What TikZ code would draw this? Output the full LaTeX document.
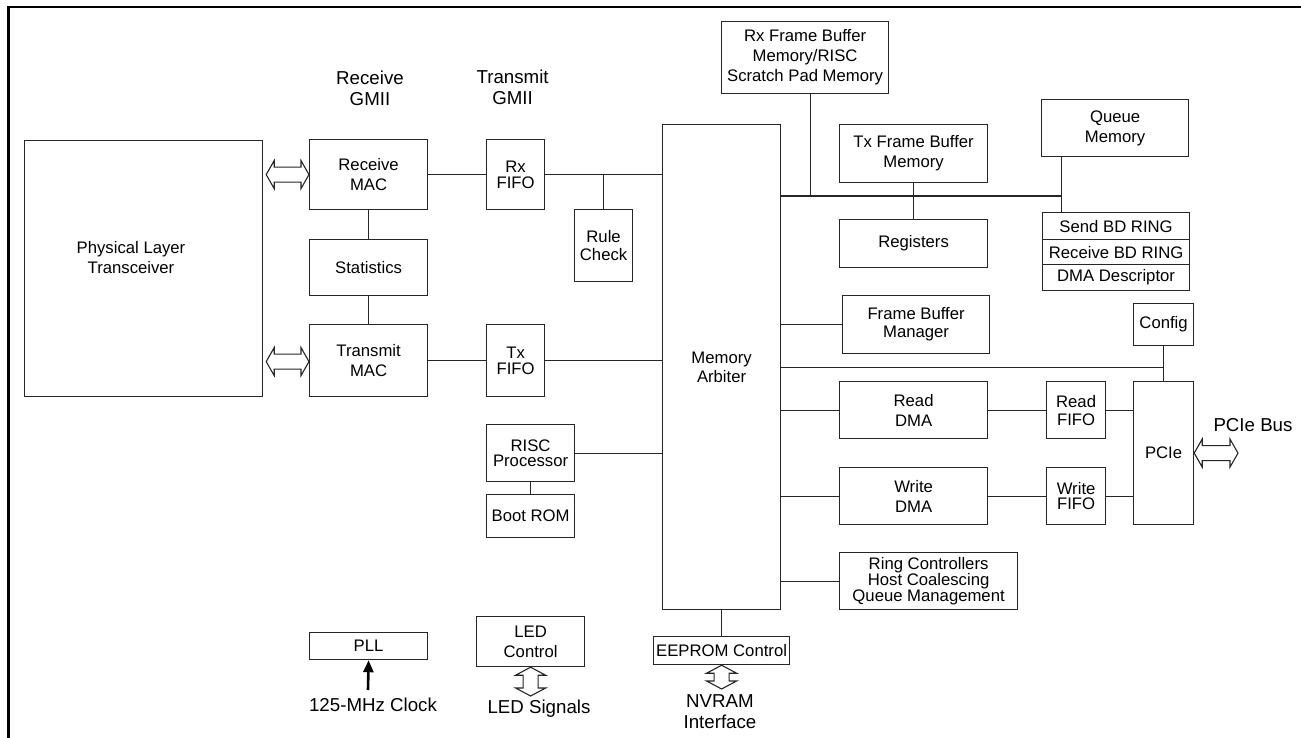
\documentclass[tikz,border=0pt]{standalone}
\usepackage{fontspec}
\setmainfont{Liberation Sans}
\usetikzlibrary{calc,arrows.meta}
\newcommand\boxfont{\fontsize{16.7}{20}\selectfont}
\newcommand\tightfont{\fontsize{16.7}{15.5}\selectfont}
\newcommand\midfont{\fontsize{16.7}{18}\selectfont}
\newcommand\arbfont{\fontsize{16.7}{19}\selectfont}
\newcommand\labfont{\fontsize{18.7}{21}\selectfont}
\newcommand\hbiarrow[2]{%
  \draw[hollow] let \p1=(#1), \p2=(#2) in
    (\x1,\y1) -- ({\x1+8pt},{\y1+14pt}) -- ({\x1+8pt},{\y1+7.5pt}) -- ({\x2-8pt},{\y1+7.5pt})
    -- ({\x2-8pt},{\y1+14pt}) -- (\x2,\y1) -- ({\x2-8pt},{\y1-14pt}) -- ({\x2-8pt},{\y1-7.5pt})
    -- ({\x1+8pt},{\y1-7.5pt}) -- ({\x1+8pt},{\y1-14pt}) -- cycle;}
\newcommand\vbiarrow[2]{%
  \draw[hollow] let \p1=(#1), \p2=(#2) in
    (\x1,\y1) -- ({\x1+15pt},{\y1-8pt}) -- ({\x1+7.5pt},{\y1-8pt}) -- ({\x1+7.5pt},{\y2+8pt})
    -- ({\x1+15pt},{\y2+8pt}) -- (\x1,\y2) -- ({\x1-15pt},{\y2+8pt}) -- ({\x1-7.5pt},{\y2+8pt})
    -- ({\x1-7.5pt},{\y1-8pt}) -- ({\x1-15pt},{\y1-8pt}) -- cycle;}
\begin{document}
\begin{tikzpicture}[x=1pt,y=-1pt,
  box/.style={draw=black!85, line width=1.2pt, inner sep=0pt, anchor=north west, align=center, font=\boxfont},
  wire/.style={draw=black!85, line width=1.2pt},
  hollow/.style={draw=black!85, line width=1.1pt, fill=white, line join=miter},
  lab/.style={align=center, font=\labfont, inner sep=0pt}]
\useasboundingbox (0,0) rectangle (1301,738);
\draw[line width=2.6pt] (8.5,738) -- (8.5,7) -- (1301,7);

% boxes
\node[box, minimum width=238pt, minimum height=256pt] (phy) at (24,140) {};
\node[font=\boxfont, align=center, inner sep=0pt] (phytxt) at (131,258) {Physical Layer\\Transceiver};
\node[box, minimum width=118pt, minimum height=70pt] (rmac) at (309,139) {Receive\\MAC};
\node[box, minimum width=118pt, minimum height=56pt] (stat) at (309,239) {Statistics};
\node[box, minimum width=118pt, minimum height=72pt] (tmac) at (309,324) {Transmit\\MAC};
\node[box, minimum width=58pt, minimum height=70pt, font=\tightfont] (rxf) at (486,139) {Rx\\FIFO};
\node[box, minimum width=58pt, minimum height=72pt, font=\tightfont] (txf) at (486,324) {Tx\\FIFO};
\node[box, minimum width=58pt, minimum height=72pt, font=\midfont] (rule) at (574,209) {Rule\\Check};
\node[box, minimum width=88pt, minimum height=57pt, font=\tightfont] (risc) at (486,424) {RISC\\Processor};
\node[box, minimum width=88pt, minimum height=43pt] (boot) at (486,494) {Boot ROM};
\node[box, minimum width=118pt, minimum height=485pt, font=\arbfont] (arb) at (662,124) {Memory\\Arbiter};
\node[box, minimum width=167pt, minimum height=72pt] (rxfb) at (721,21) {Rx Frame Buffer\\Memory/RISC\\Scratch Pad Memory};
\node[box, minimum width=148pt, minimum height=58pt] (txfb) at (839,124) {Tx Frame Buffer\\Memory};
\node[box, minimum width=148pt, minimum height=48pt] (reg) at (839,219) {Registers};
\node[box, minimum width=147pt, minimum height=57pt] (qmem) at (1041,99) {Queue\\Memory};
\node[box, minimum width=147pt, minimum height=27pt] (send) at (1042,212) {Send BD RING};
\node[box, minimum width=147pt, minimum height=25pt] (recv) at (1042,239) {Receive BD RING};
\node[box, minimum width=147pt, minimum height=26pt] (dmad) at (1042,264) {DMA Descriptor};
\node[box, minimum width=147pt, minimum height=58pt, font=\midfont] (fbm) at (842,295) {Frame Buffer\\Manager};
\node[box, minimum width=60pt, minimum height=42pt] (config) at (1133,303) {Config};
\node[box, minimum width=148pt, minimum height=57pt] (rdma) at (839,381) {Read\\DMA};
\node[box, minimum width=59pt, minimum height=57pt, font=\midfont] (rfifo) at (1046,381) {Read\\FIFO};
\node[box, minimum width=60pt, minimum height=143pt] (pcie) at (1133,381) {PCIe};
\node[box, minimum width=148pt, minimum height=57pt] (wdma) at (839,467) {Write\\DMA};
\node[box, minimum width=59pt, minimum height=57pt, font=\tightfont] (wfifo) at (1046,467) {Write\\FIFO};
\node[box, minimum width=178pt, minimum height=57pt, font=\tightfont] (ring) at (839,552) {Ring Controllers\\Host Coalescing\\Queue Management};
\node[box, minimum width=136pt, minimum height=28pt] (eeprom) at (653,636) {EEPROM Control};
\node[box, minimum width=118pt, minimum height=27pt] (pll) at (309,632) {PLL};
\node[box, minimum width=108pt, minimum height=50pt] (led) at (476,616) {LED\\Control};

% outside labels
\node[lab] (rgmii) at (370,88.5) {Receive\\GMII};
\node[lab] (tgmii) at (512.6,87) {Transmit\\GMII};
\node[lab] (pciebus) at (1253,425) {PCIe Bus};
\node[lab] (clk) at (373,705) {125-MHz Clock};
\node[lab] (ledsig) at (539,709) {LED Signals};
\node[lab] (nvram) at (720,712) {NVRAM\\Interface};

% named free ends
\coordinate (qtap) at (1061.6,196);
\coordinate (clkin) at (368,690);
\coordinate (busend) at (1238,452.5);
\coordinate (nvend) at (721,689);
\coordinate (ledend) at (530,696);

% connectors
\draw[wire] (rmac.east) -- (rxf.west);
\draw[wire] (rxf.east) -- (rxf.east -| arb.west);
\draw[wire] (rule.north) -- (rule.north |- rxf.east);
\draw[wire] (rmac.south) -- (stat.north);
\draw[wire] (stat.south) -- (tmac.north);
\draw[wire] (tmac.east) -- (txf.west);
\draw[wire] (txf.east) -- (txf.east -| arb.west);
\draw[wire] (risc.east) -- (risc.east -| arb.west);
\draw[wire] (risc.south) -- (boot.north);
\draw[wire] (arb.south) -- (eeprom.north);
\draw[wire] (arb.east |- qtap) -- (qtap);
\draw[wire] ([xshift=5pt]rxfb.south) -- ([xshift=5pt]rxfb.south |- qtap);
\draw[wire] (qmem.south -| qtap) -- (send.north -| qtap);
\draw[wire] (txfb.south) -- (reg.north);
\draw[wire] (fbm.west -| arb.east) -- (fbm.west);
\draw[wire] (arb.east) -- (arb.east -| config.south);
\draw[wire] (config.south) -- (pcie.north);
\draw[wire] (rdma.west -| arb.east) -- (rdma.west);
\draw[wire] (rdma.east) -- (rfifo.west);
\draw[wire] (rfifo.east) -- (rfifo.east -| pcie.west);
\draw[wire] (wdma.west -| arb.east) -- (wdma.west);
\draw[wire] (wdma.east) -- (wfifo.west);
\draw[wire] (wfifo.east) -- (wfifo.east -| pcie.west);
\draw[wire] (ring.west -| arb.east) -- (ring.west);
\draw[line width=2.6pt, -{Triangle[length=12pt,width=10pt]}] (clkin) -- (pll.south);

% hollow double arrows
\hbiarrow{$(phy.east |- rmac.west)+(3,0)$}{rmac.west}
\hbiarrow{$(phy.east |- tmac.west)+(3,1)$}{tmac.west}
\hbiarrow{pcie.east}{busend}
\vbiarrow{eeprom.south}{nvend}
\vbiarrow{led.south}{ledend}
\end{tikzpicture}
\end{document}
